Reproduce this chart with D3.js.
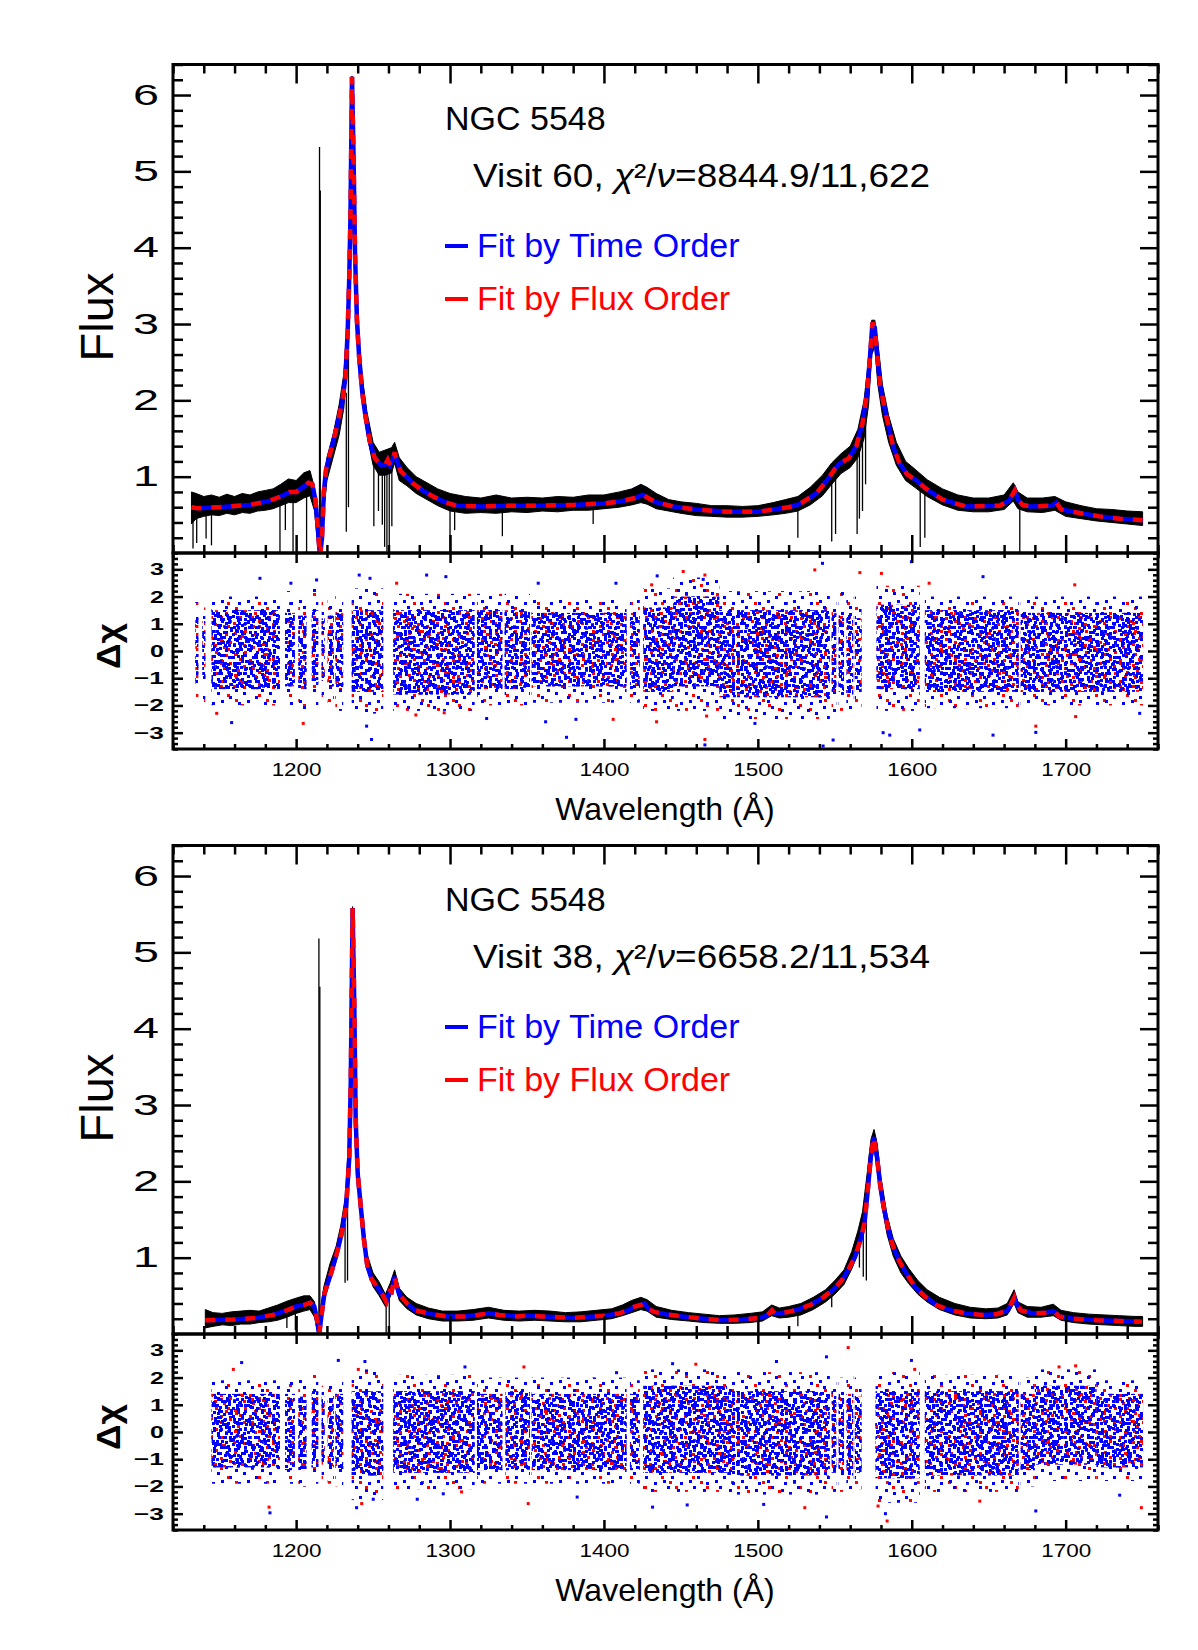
<!DOCTYPE html>
<html>
<head>
<meta charset="utf-8">
<script src="https://cdn.jsdelivr.net/npm/d3@7"></script>
<style>
  body { margin: 0; background: #fff; }
  svg { display: block; }
</style>
</head>
<body>
<svg id="chart" width="1198" height="1650"></svg>
<script>
// ---------- data ----------
const WAVE_DOMAIN = [1120, 1760];
const FLUX_DOMAIN = [0, 6.4];
const RES_DOMAIN = [-3.6, 3.6];
const WAVE_TICKS = [1200, 1300, 1400, 1500, 1600, 1700];
const FLUX_TICKS = [1, 2, 3, 4, 5, 6];
const RES_TICKS = [-3, -2, -1, 0, 1, 2, 3];

const titleText = 'NGC 5548';
const legendLabels = ['Fit by Time Order', 'Fit by Flux Order'];

// Visit 60: model fit (both orderings coincide at this scale) [wavelength, flux]
const fit60 = [[1132,0.60],[1136,0.585],[1150,0.60],[1170,0.63],[1182,0.68],[1190,0.74],[1196,0.80],[1200,0.80],[1205,0.87],[1208,0.92],[1210.5,0.90],[1212.5,0.70],[1214,0.35],[1215.5,-0.05],[1216.8,0.20],[1218,0.80],[1219.5,1.10],[1223,1.37],[1227,1.70],[1230,1.98],[1232,2.30],[1233.5,2.90],[1234.5,3.60],[1235.3,4.40],[1236.3,6.24],[1237.3,5.20],[1238.3,3.90],[1239.5,3.05],[1241,2.55],[1243,2.10],[1245,1.80],[1248,1.45],[1251,1.25],[1255,1.15],[1258,1.16],[1259.5,1.22],[1261,1.15],[1262.8,1.22],[1264,1.32],[1265.5,1.20],[1268,1.07],[1272,0.99],[1276,0.91],[1282,0.82],[1289,0.74],[1296,0.67],[1304,0.62],[1320,0.61],[1340,0.62],[1360,0.62],[1380,0.63],[1400,0.65],[1412,0.68],[1420,0.72],[1425,0.76],[1428,0.73],[1433,0.67],[1445,0.61],[1460,0.57],[1480,0.54],[1500,0.54],[1510,0.57],[1520,0.60],[1527,0.64],[1538,0.78],[1546,0.98],[1550,1.10],[1553,1.17],[1559,1.24],[1564,1.40],[1568,1.70],[1571,2.10],[1573,2.60],[1574.5,3.02],[1576,2.95],[1577.5,2.60],[1579.5,2.20],[1583,1.83],[1588,1.39],[1592,1.18],[1597,1.03],[1603,0.95],[1610,0.83],[1620,0.70],[1635,0.61],[1657,0.62],[1663,0.68],[1667,0.82],[1669,0.70],[1672,0.63],[1677,0.61],[1691,0.62],[1694,0.66],[1697,0.57],[1710,0.52],[1722,0.48],[1735,0.45],[1750,0.43]];

// Visit 60: observed spectrum envelope [wavelength, low, high]
const obs60 = [[1132,0.38,0.80],[1135,0.45,0.78],[1140,0.48,0.74],[1145,0.50,0.76],[1150,0.49,0.73],[1155,0.52,0.77],[1160,0.50,0.74],[1165,0.53,0.78],[1170,0.52,0.76],[1175,0.55,0.80],[1180,0.56,0.82],[1185,0.58,0.84],[1190,0.62,0.90],[1195,0.66,0.97],[1200,0.66,0.95],[1205,0.72,1.05],[1209,0.75,1.08],[1212,0.55,0.85],[1214,0.10,0.40],[1216,0.00,0.05],[1218,0.55,0.95],[1220,0.95,1.25],[1224,1.25,1.55],[1228,1.55,1.95],[1231,1.90,2.35],[1233.5,2.60,3.10],[1235,3.80,4.50],[1236.3,5.90,6.25],[1237.5,4.80,5.30],[1239,3.30,3.70],[1241,2.40,2.80],[1243,2.00,2.30],[1246,1.55,1.85],[1250,1.15,1.45],[1254,1.02,1.32],[1258,1.02,1.35],[1262,1.05,1.38],[1264,1.18,1.45],[1267,0.95,1.25],[1272,0.88,1.12],[1278,0.78,1.00],[1285,0.70,0.92],[1292,0.62,0.84],[1300,0.55,0.78],[1310,0.52,0.74],[1320,0.53,0.72],[1330,0.52,0.76],[1340,0.54,0.72],[1350,0.53,0.73],[1360,0.55,0.72],[1370,0.54,0.74],[1380,0.56,0.73],[1390,0.56,0.76],[1400,0.58,0.76],[1410,0.60,0.80],[1418,0.63,0.84],[1424,0.66,0.90],[1428,0.64,0.86],[1434,0.58,0.78],[1442,0.55,0.70],[1450,0.52,0.67],[1460,0.49,0.65],[1470,0.48,0.62],[1480,0.47,0.62],[1490,0.47,0.61],[1500,0.48,0.62],[1510,0.50,0.66],[1518,0.52,0.70],[1526,0.55,0.74],[1534,0.63,0.86],[1542,0.75,1.02],[1548,0.90,1.18],[1554,1.04,1.30],[1560,1.12,1.40],[1565,1.25,1.62],[1569,1.50,2.00],[1572,1.95,2.55],[1574,2.60,3.05],[1576,2.70,3.05],[1578,2.20,2.75],[1581,1.80,2.20],[1585,1.45,1.80],[1590,1.15,1.45],[1596,0.95,1.20],[1602,0.86,1.10],[1610,0.74,0.96],[1620,0.63,0.84],[1630,0.56,0.76],[1640,0.54,0.72],[1650,0.54,0.72],[1660,0.57,0.76],[1666,0.68,0.92],[1669,0.58,0.80],[1675,0.54,0.72],[1685,0.53,0.72],[1693,0.56,0.74],[1700,0.48,0.67],[1710,0.45,0.62],[1720,0.42,0.58],[1730,0.40,0.57],[1740,0.38,0.55],[1750,0.36,0.54]];

// Visit 60: narrow absorption / emission features [wavelength, from, to]
const spikes60 = [[1133,0.58,0.06],[1135.4,0.55,0.13],[1141.5,0.55,0.19],[1145,0.55,0.10],[1189.5,0.70,-0.1],[1193,0.72,0.30],[1198,0.75,-0.1],[1206.8,0.85,-0.1],[1215.2,0.2,5.32],[1215.7,0.2,4.75],[1232.6,2.1,0.28],[1234,2.8,0.60],[1250.5,1.25,0.35],[1253.5,1.2,0.55],[1256,1.15,0.37],[1257.5,1.1,0.08],[1259,1.1,0.02],[1260.5,1.1,0.10],[1262.2,1.15,0.35],[1300,0.62,-0.1],[1303,0.60,0.30],[1334,0.62,0.22],[1393,0.62,0.38],[1526,0.62,0.20],[1548,0.95,0.15],[1550.5,1.05,0.25],[1564.5,1.35,0.25],[1566,1.45,0.45],[1568,1.60,0.55],[1570,1.85,0.90],[1605.5,0.95,0.08],[1608.5,0.88,0.20],[1670.2,0.68,-0.1]];

// Visit 60: residual spread per fitted window [from, to, coreLow, coreHigh, outerLow, outerHigh]
const band60 = [[1134.5,1136.5,-1.2,1.3,-1.7,1.8],[1139,1141,-1.0,1.1,-1.9,1.6],[1145,1189.5,-1.4,1.5,-2.0,2.0],[1192.8,1199.2,-1.3,1.4,-2.1,2.2],[1201.4,1206.8,-1.4,1.3,-2.2,2.1],[1210.1,1214.4,-1.2,1.5,-2.0,2.3],[1216.6,1218.6,-1.1,1.2,-1.8,1.8],[1220.5,1224.5,-1.3,1.3,-2.0,1.9],[1225.5,1230.6,-1.4,1.4,-2.2,2.1],[1236.1,1256.6,-1.5,1.5,-2.3,2.3],[1263.1,1316,-1.6,1.5,-2.2,2.1],[1317.5,1334,-1.4,1.5,-2.0,2.1],[1335.5,1351.9,-1.4,1.5,-2.0,2.1],[1353,1414.7,-1.3,1.4,-1.9,1.9],[1416.9,1423.3,-1.4,1.4,-1.9,2.0],[1425.5,1445,-1.5,1.6,-2.2,2.3],[1445,1475,-1.3,2.0,-2.2,2.7],[1475,1546.8,-1.7,1.5,-2.5,2.2],[1547.9,1551,-1.6,1.4,-2.3,2.1],[1552.5,1556,-1.5,1.3,-2.2,2.2],[1557.5,1562,-1.6,1.4,-2.4,2.0],[1563,1567.4,-1.5,1.2,-2.1,2.0],[1577.1,1605.2,-1.4,1.7,-2.2,2.4],[1608.5,1669.5,-1.5,1.5,-2.1,2.0],[1670.8,1750.3,-1.5,1.4,-2.0,2.0]];

// Visit 60: isolated residual points [wavelength, delta chi]
const outBlue60 = [[1176.5,2.67],[1158.1,-2.63],[1196.6,2.49],[1213.3,2.61],[1241,2.79],[1248,2.67],[1249,-3.25],[1245.8,-2.76],[1284.8,2.79],[1297.3,2.73],[1357.3,2.49],[1407.8,2.49],[1434.6,2.76],[1375.7,-3.17],[1362.1,-2.60],[1323.8,-2.48],[1381.8,-2.51],[1542,3.22],[1464.5,2.63],[1599.8,3.28],[1646.3,2.73],[1465.6,-3.45],[1548.9,-3.27],[1542.4,-3.49],[1498.1,-2.66],[1581.4,-3.00],[1585.7,-3.09],[1652.8,-3.09],[1680.6,-2.99],[1748.1,-2.29],[1605.2,-2.90]];
const outRed60 = [[1265.3,2.49],[1431,2.43],[1406,-2.51],[1434.2,-2.60],[1204.6,-2.66],[1148.4,-2.29],[1277.8,-2.35],[1296.2,-2.27],[1537,2.98],[1451.5,2.92],[1465.6,2.79],[1566.3,2.88],[1580.3,2.85],[1705.9,2.43],[1611.3,2.49],[1465.6,-3.25],[1466.7,-2.39],[1680.6,-2.76],[1706.5,-2.41]];

// Visit 38
const fit38 = [[1141,0.18],[1160,0.19],[1174,0.21],[1185,0.25],[1194,0.31],[1200,0.36],[1205,0.38],[1209,0.41],[1211.8,0.36],[1213.5,0.20],[1215,0.0],[1216.5,0.25],[1218.4,0.53],[1223.4,0.84],[1227,1.10],[1229.6,1.32],[1232.5,1.67],[1234.5,2.30],[1235.5,3.30],[1236.7,5.58],[1237.8,4.30],[1238.7,2.80],[1240,2.10],[1242,1.67],[1244,1.25],[1246.2,0.90],[1249,0.72],[1252.4,0.62],[1256,0.52],[1258.6,0.42],[1260.7,0.56],[1262,0.55],[1264,0.75],[1265.5,0.62],[1267,0.52],[1272,0.40],[1277.3,0.31],[1288,0.26],[1298,0.23],[1310,0.23],[1318,0.25],[1325,0.27],[1332,0.25],[1343.5,0.23],[1350,0.24],[1360,0.23],[1380,0.21],[1400,0.24],[1410,0.27],[1416,0.31],[1420,0.36],[1424,0.38],[1426.4,0.40],[1429,0.33],[1432.6,0.29],[1440,0.26],[1451,0.23],[1465,0.20],[1476,0.18],[1490,0.19],[1501,0.21],[1506,0.24],[1509.2,0.31],[1511,0.27],[1513.4,0.27],[1520,0.29],[1526,0.32],[1535,0.39],[1542.4,0.48],[1549,0.58],[1554.8,0.71],[1559,0.85],[1563.1,1.01],[1566.5,1.22],[1569.3,1.45],[1571.5,1.90],[1573.4,2.32],[1575.3,2.58],[1577.4,2.32],[1579.5,1.95],[1581.7,1.67],[1585,1.35],[1588,1.14],[1592,0.95],[1596.3,0.80],[1602,0.62],[1608.7,0.49],[1616,0.38],[1625.2,0.31],[1635,0.27],[1646,0.25],[1655,0.26],[1662.5,0.31],[1666.7,0.48],[1668.5,0.38],[1670.8,0.31],[1679,0.27],[1688,0.28],[1691.5,0.30],[1693.5,0.28],[1695.6,0.23],[1705,0.20],[1720.5,0.18],[1735,0.17],[1749.5,0.16]];

const obs38 = [[1141,0.08,0.32],[1146,0.10,0.28],[1152,0.12,0.27],[1158,0.11,0.29],[1164,0.13,0.30],[1170,0.13,0.31],[1176,0.15,0.30],[1182,0.16,0.34],[1188,0.18,0.38],[1194,0.22,0.43],[1200,0.27,0.47],[1205,0.30,0.50],[1209,0.32,0.50],[1212,0.22,0.42],[1214,0.00,0.12],[1216,0.05,0.35],[1218,0.42,0.62],[1222,0.70,0.92],[1226,0.95,1.15],[1229,1.20,1.42],[1232,1.55,1.80],[1234,2.10,2.50],[1235.5,3.10,3.60],[1236.7,5.40,5.60],[1237.8,4.10,4.50],[1239,2.50,2.80],[1241,1.75,2.00],[1243,1.40,1.60],[1246,0.85,1.05],[1250,0.62,0.80],[1254,0.50,0.68],[1258,0.36,0.52],[1261,0.48,0.66],[1264,0.66,0.84],[1267,0.44,0.60],[1272,0.33,0.48],[1278,0.25,0.40],[1286,0.20,0.34],[1295,0.17,0.30],[1305,0.17,0.30],[1315,0.18,0.32],[1325,0.21,0.35],[1335,0.18,0.31],[1345,0.17,0.30],[1355,0.18,0.31],[1365,0.17,0.30],[1375,0.16,0.28],[1385,0.16,0.29],[1395,0.18,0.31],[1405,0.20,0.33],[1412,0.24,0.38],[1418,0.28,0.44],[1424,0.32,0.48],[1428,0.30,0.45],[1434,0.22,0.36],[1444,0.19,0.31],[1455,0.17,0.28],[1465,0.15,0.26],[1475,0.14,0.24],[1485,0.14,0.25],[1495,0.15,0.27],[1503,0.17,0.29],[1509,0.24,0.38],[1514,0.21,0.34],[1520,0.22,0.36],[1528,0.25,0.40],[1536,0.32,0.48],[1544,0.42,0.58],[1550,0.52,0.70],[1556,0.65,0.84],[1561,0.85,1.08],[1565,1.05,1.35],[1568,1.30,1.60],[1571,1.75,2.10],[1573.5,2.20,2.55],[1575.5,2.45,2.68],[1577.5,2.15,2.50],[1580,1.75,2.05],[1584,1.30,1.55],[1588,1.02,1.25],[1593,0.80,1.02],[1598,0.66,0.86],[1604,0.52,0.70],[1610,0.42,0.58],[1618,0.32,0.48],[1628,0.25,0.40],[1638,0.21,0.35],[1648,0.20,0.33],[1656,0.21,0.34],[1662,0.25,0.40],[1666.5,0.40,0.58],[1669,0.28,0.42],[1675,0.22,0.36],[1684,0.22,0.35],[1692,0.24,0.39],[1697,0.18,0.31],[1705,0.15,0.28],[1715,0.13,0.26],[1725,0.12,0.25],[1735,0.11,0.24],[1745,0.10,0.23],[1750,0.10,0.23]];

const spikes38 = [[1214.8,0.1,5.18],[1215.4,0.1,4.55],[1194,0.30,0.08],[1199.5,0.35,0.05],[1231.8,1.45,0.67],[1233.4,1.90,0.70],[1258.5,0.45,-0.1],[1260.5,0.50,0.05],[1300,0.23,-0.1],[1526,0.30,0.10],[1548,0.60,0.35],[1566,1.20,0.87],[1568.5,1.40,0.75],[1570.5,1.70,0.70]];

const band38 = [[1145,1189.5,-1.3,1.4,-1.9,1.9],[1192.8,1199.2,-1.4,1.4,-1.9,2.0],[1201.4,1206.8,-1.4,1.3,-2.0,2.0],[1210.1,1214.4,-1.3,1.5,-1.9,2.1],[1216.6,1218.6,-1.2,1.3,-1.8,1.7],[1220.5,1224.5,-1.3,1.3,-1.9,1.8],[1225.5,1230.6,-1.4,1.4,-2.0,1.9],[1236.1,1256.6,-1.6,1.5,-2.5,2.3],[1263.1,1316,-1.5,1.5,-2.1,2.1],[1317.5,1334,-1.4,1.4,-1.9,2.0],[1336,1351.9,-1.4,1.5,-1.9,2.0],[1353,1414.7,-1.4,1.4,-1.9,2.0],[1416.9,1423.3,-1.4,1.4,-1.9,1.9],[1425.5,1480,-1.5,1.7,-2.2,2.3],[1480,1546.8,-1.6,1.5,-2.3,2.2],[1547.9,1551,-1.5,1.5,-2.2,2.1],[1552.5,1556,-1.5,1.4,-2.2,2.0],[1557.5,1562,-1.6,1.4,-2.3,2.1],[1563,1567.4,-1.5,1.3,-2.1,2.0],[1576.5,1605.2,-1.7,1.5,-2.6,2.2],[1608.5,1669.5,-1.6,1.5,-2.2,2.1],[1670.8,1680,-1.4,1.4,-2.0,2.0],[1680,1720,-1.2,1.7,-1.8,2.3],[1720,1750.3,-1.3,1.4,-1.8,1.9]];

const outBlue38 = [[1164.6,2.55],[1227.4,2.63],[1244.7,2.59],[1309.7,2.39],[1408.2,2.18],[1183,-2.97],[1239.3,-2.78],[1250.1,-2.47],[1278.7,-2.47],[1295.6,-2.27],[1382.6,-2.39],[1431.6,-2.76],[1544.6,2.76],[1599.8,2.63],[1444.6,2.51],[1512.1,2.59],[1544.6,-3.12],[1454.1,-2.68],[1582.9,-3.00],[1503.8,-2.66],[1680.6,-2.90],[1735.1,-2.32]];
const outRed38 = [[1159.2,2.30],[1240.4,2.30],[1348,2.39],[1182.4,-2.76],[1242.6,-2.63],[1307.5,-2.20],[1350.8,-2.63],[1558.7,3.10],[1601.9,2.30],[1459.7,2.49],[1695.7,2.39],[1706.5,2.43],[1584,-3.27],[1530.5,-2.78],[1644.2,-2.54],[1749.2,-2.78],[1578.1,-2.72]];

// ---------- layout & style ----------
const FONT = '"Liberation Sans", Arial, sans-serif';
const BLUE = '#0000ff', RED = '#ff0000';
const LEFT = 173, RIGHT = 1158;
const FLUX_TOP = 64.5, FLUX_BOTTOM = 553, RES_BOTTOM = 749;
const PANEL_SHIFT = 781;

// speckle tiles used to texture the residual clouds (blue tiles of
// different periods so the overlay does not look like a grid)
const CORE_BLUE_A = [[0,0],[9,1],[16,3],[21,7],[4,6],[12,8],[1,12],[8,14],[17,14],[20,0]];
const CORE_BLUE_B = [[2,3],[11,0],[20,5],[27,1],[6,10],[15,12],[24,11],[0,17],[10,19],[19,18],[28,16],[13,6],[5,20]];
const CORE_BLUE_C = [[3,1],[14,3],[25,0],[33,5],[8,8],[19,10],[29,13],[1,15],[12,17],[23,19],[34,21],[6,23],[17,24],[28,24],[16,14],[34,12],[22,6],[4,20]];
const CORE_RED = [[2,2],[12,0],[22,3],[7,7],[17,8],[26,11],[1,13],[11,14],[20,16],[5,18]];
const OUTER_BLUE = [[4,2],[17,6],[9,12],[21,16],[1,9],[13,0]];
const OUTER_RED = [[10,4],[24,14],[3,18],[18,9]];

const svg = d3.select('#chart');
svg.append('rect').attr('width', 1198).attr('height', 1650).attr('fill', '#fff');
const defs = svg.append('defs');

function addPattern(id, w, h, dots, color) {
    const p = defs.append('pattern')
        .attr('id', id).attr('patternUnits', 'userSpaceOnUse')
        .attr('width', w).attr('height', h);
    p.selectAll('rect').data(dots).join('rect')
        .attr('x', d => d[0]).attr('y', d => d[1])
        .attr('width', 3).attr('height', 3).attr('fill', color);
}
addPattern('core-blue-a', 24, 18, CORE_BLUE_A, BLUE);
addPattern('core-blue-b', 31, 23, CORE_BLUE_B, BLUE);
addPattern('core-blue-c', 37, 27, CORE_BLUE_C, BLUE);
addPattern('core-red', 29, 21, CORE_RED, RED);
addPattern('outer-blue', 26, 20, OUTER_BLUE, BLUE);
addPattern('outer-red', 31, 23, OUTER_RED, RED);

const x = d3.scaleLinear().domain(WAVE_DOMAIN).range([LEFT, RIGHT]);
const waveMinor = d3.range(1120, 1761, 20).filter(v => v % 100 !== 0);
const fluxMinor = d3.range(1, 33).filter(i => i % 5 !== 0).map(i => i * 0.2);
const resMinor = d3.range(-18, 19).filter(i => i % 5 !== 0).map(i => i * 0.2);

// label: {fmt, padding, size, weight, width(text) -> stretched width}
function axis(gen, transform, values, size, label) {
    const a = svg.append('g').attr('transform', transform)
        .call(gen.tickValues(values).tickSize(size)
            .tickPadding(label ? label.padding : 0)
            .tickFormat(label ? label.fmt : () => ''));
    a.select('.domain').remove();
    a.selectAll('line').attr('stroke', '#000').attr('stroke-width', 2.5);
    if (label) {
        a.selectAll('text')
            .attr('font-family', FONT).attr('font-size', label.size)
            .attr('font-weight', label.weight || 'normal').attr('fill', '#000')
            .attr('textLength', function () { return label.width(this.textContent); })
            .attr('lengthAdjust', 'spacingAndGlyphs');
    } else {
        a.selectAll('text').remove();
    }
    return a;
}

function drawVisit(dy, id, fit, obs, spikes, bands, outBlue, outRed, visitNo, chi2, dof) {
    const yF = d3.scaleLinear().domain(FLUX_DOMAIN).range([FLUX_BOTTOM + dy, FLUX_TOP + dy]);
    const yR = d3.scaleLinear().domain(RES_DOMAIN).range([RES_BOTTOM + dy, FLUX_BOTTOM + dy]);

    defs.append('clipPath').attr('id', `clip-${id}`).append('rect')
        .attr('x', LEFT).attr('y', FLUX_TOP + dy)
        .attr('width', RIGHT - LEFT).attr('height', FLUX_BOTTOM - FLUX_TOP);

    // spectrum
    const plot = svg.append('g').attr('clip-path', `url(#clip-${id})`);
    const band = d3.area().x(d => x(d[0])).y0(d => yF(d[1])).y1(d => yF(d[2]));
    plot.append('path').datum(obs).attr('d', band)
        .attr('fill', '#000').attr('stroke', '#000').attr('stroke-width', 1);
    plot.selectAll('line.spike').data(spikes).join('line')
        .attr('class', 'spike')
        .attr('x1', d => x(d[0])).attr('x2', d => x(d[0]))
        .attr('y1', d => yF(d[1])).attr('y2', d => yF(d[2]))
        .attr('stroke', '#000').attr('stroke-width', 1.3);

    const line = d3.line().x(d => x(d[0])).y(d => yF(d[1]));
    plot.append('path').datum(fit).attr('d', line)
        .attr('fill', 'none').attr('stroke', BLUE).attr('stroke-width', 4.5);
    plot.append('path').datum(fit).attr('d', line)
        .attr('fill', 'none').attr('stroke', RED).attr('stroke-width', 4.5)
        .attr('stroke-dasharray', '10,10');

    // residual clouds
    const res = svg.append('g');
    const layer = (lo, hi, fill) => res.selectAll(null).data(bands).join('rect')
        .attr('x', d => x(d[0])).attr('width', d => x(d[1]) - x(d[0]))
        .attr('y', d => yR(d[hi])).attr('height', d => yR(d[lo]) - yR(d[hi]))
        .attr('fill', fill);
    layer(4, 5, 'url(#outer-red)');
    layer(4, 5, 'url(#outer-blue)');
    layer(2, 3, 'url(#core-red)');
    layer(2, 3, 'url(#core-blue-a)');
    layer(2, 3, 'url(#core-blue-b)');
    layer(2, 3, 'url(#core-blue-c)');
    const dots = (pts, color) => res.selectAll(null).data(pts).join('rect')
        .attr('x', d => x(d[0]) - 1.5).attr('y', d => yR(d[1]) - 1.5)
        .attr('width', 3).attr('height', 3).attr('fill', color);
    dots(outRed, RED);
    dots(outBlue, BLUE);

    // frames
    [[FLUX_TOP, FLUX_BOTTOM], [FLUX_BOTTOM, RES_BOTTOM]].forEach(([t, b]) => {
        svg.append('rect').attr('x', LEFT).attr('y', t + dy)
            .attr('width', RIGHT - LEFT).attr('height', b - t)
            .attr('fill', 'none').attr('stroke', '#000').attr('stroke-width', 3);
    });

    // flux panel axes
    axis(d3.axisLeft(yF), `translate(${LEFT},0)`, FLUX_TICKS, -18,
        { fmt: d => d, padding: 14, size: 29, width: () => 26 });
    axis(d3.axisLeft(yF), `translate(${LEFT},0)`, fluxMinor, -10);
    axis(d3.axisRight(yF), `translate(${RIGHT},0)`, FLUX_TICKS, -18);
    axis(d3.axisRight(yF), `translate(${RIGHT},0)`, fluxMinor, -10);
    axis(d3.axisTop(x), `translate(0,${FLUX_TOP + dy})`, WAVE_TICKS, -19);
    axis(d3.axisTop(x), `translate(0,${FLUX_TOP + dy})`, waveMinor, -9);
    axis(d3.axisBottom(x), `translate(0,${FLUX_BOTTOM + dy})`, WAVE_TICKS, -18);
    axis(d3.axisBottom(x), `translate(0,${FLUX_BOTTOM + dy})`, waveMinor, -8);

    // residual panel axes
    axis(d3.axisLeft(yR), `translate(${LEFT},0)`, RES_TICKS, -10,
        { fmt: d3.format('d'), padding: 9, size: 17, weight: 'bold', width: s => s.length > 1 ? 30 : 14 });
    axis(d3.axisLeft(yR), `translate(${LEFT},0)`, resMinor, -5);
    axis(d3.axisRight(yR), `translate(${RIGHT},0)`, RES_TICKS, -10);
    axis(d3.axisRight(yR), `translate(${RIGHT},0)`, resMinor, -5);
    axis(d3.axisTop(x), `translate(0,${FLUX_BOTTOM + dy})`, WAVE_TICKS, -10);
    axis(d3.axisTop(x), `translate(0,${FLUX_BOTTOM + dy})`, waveMinor, -5);
    axis(d3.axisBottom(x), `translate(0,${RES_BOTTOM + dy})`, WAVE_TICKS, -10,
        { fmt: d => d, padding: 14, size: 18, width: () => 50 });
    axis(d3.axisBottom(x), `translate(0,${RES_BOTTOM + dy})`, waveMinor, -5);

    // axis titles
    svg.append('text').attr('transform', `translate(113,${317 + dy}) rotate(-90)`)
        .attr('text-anchor', 'middle').attr('font-family', FONT).attr('font-size', 47)
        .text('Flux');
    svg.append('text').attr('transform', `translate(120,${646 + dy}) rotate(-90)`)
        .attr('text-anchor', 'middle').attr('font-family', FONT).attr('font-size', 34)
        .attr('font-weight', 'bold').attr('textLength', 46).attr('lengthAdjust', 'spacingAndGlyphs')
        .text('Δχ');
    svg.append('text').attr('x', 665).attr('y', 820 + dy)
        .attr('text-anchor', 'middle').attr('font-family', FONT).attr('font-size', 32)
        .text('Wavelength (Å)');

    // annotations
    svg.append('text').attr('x', 445).attr('y', 130 + dy)
        .attr('font-family', FONT).attr('font-size', 34).text(titleText);
    const t = svg.append('text').attr('x', 473).attr('y', 187 + dy)
        .attr('font-family', FONT).attr('font-size', 34)
        .attr('textLength', 457).attr('lengthAdjust', 'spacingAndGlyphs');
    t.append('tspan').text(`Visit ${visitNo}, `);
    t.append('tspan').attr('font-style', 'italic').text('χ');
    t.append('tspan').text('²/');
    t.append('tspan').attr('font-style', 'italic').text('ν');
    t.append('tspan').text(`=${chi2}/${dof}`);

    [BLUE, RED].forEach((c, i) => {
        const ly = 246 + i * 53 + dy;
        svg.append('line').attr('x1', 445).attr('x2', 468).attr('y1', ly).attr('y2', ly)
            .attr('stroke', c).attr('stroke-width', 4);
        svg.append('text').attr('x', 477).attr('y', 257 + i * 53 + dy)
            .attr('font-family', FONT).attr('font-size', 34).attr('fill', c)
            .text(legendLabels[i]);
    });
}

drawVisit(0, 'v60', fit60, obs60, spikes60, band60, outBlue60, outRed60, 60, '8844.9', '11,622');
drawVisit(PANEL_SHIFT, 'v38', fit38, obs38, spikes38, band38, outBlue38, outRed38, 38, '6658.2', '11,534');
</script>
</body>
</html>
